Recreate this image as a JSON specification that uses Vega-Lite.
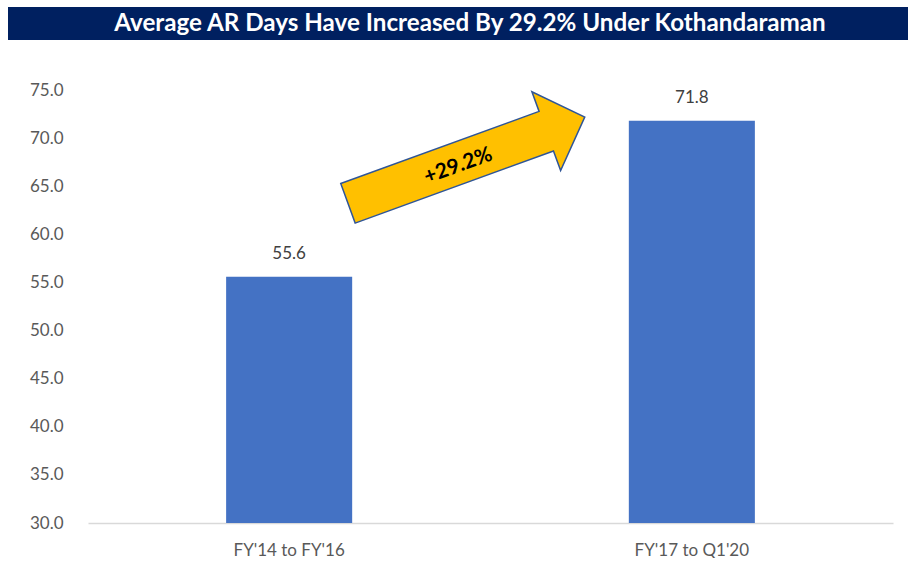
{
  "$schema": "https://vega.github.io/schema/vega-lite/v6.json",
  "background": "white",
  "padding": {"left": 8, "top": 7, "right": 0, "bottom": 0},
  "spacing": 41,
  "config": {
    "view": {"stroke": null},
    "font": "Lato"
  },
  "vconcat": [
    {
      "width": 900,
      "height": 33,
      "view": {"fill": "#002060", "stroke": null},
      "data": {"values": [{"title": "Average AR Days Have Increased By 29.2% Under Kothandaraman"}]},
      "mark": {"type": "text", "color": "white", "fontSize": 24.2, "fontWeight": "bold", "font": "Lato", "align": "center", "baseline": "middle", "dx": 12},
      "encoding": {"text": {"field": "title", "type": "nominal"}}
    },
    {
      "spacing": 0,
      "hconcat": [
        {
          "width": 19,
          "height": 1,
          "data": {"values": [{"blank": 0}]},
          "mark": {"type": "point", "opacity": 0, "size": 0},
          "encoding": {}
        },
        {
          "width": 805,
          "height": 433,
          "resolve": {"scale": {"x": "independent"}},
          "layer": [
            {
              "data": {"values": [
                {"period": "FY'14 to FY'16", "days": 55.6},
                {"period": "FY'17 to Q1'20", "days": 71.8}
              ]},
              "layer": [
                {
                  "mark": {"type": "bar", "color": "#4472C4", "clip": true},
                  "encoding": {
                    "x": {"field": "period", "type": "nominal", "sort": null,
                      "scale": {"paddingInner": 0.687, "paddingOuter": 0.343},
                      "axis": {"title": null, "labelAngle": 0, "labelFontSize": 17, "labelColor": "#595959", "labelFont": "Lato", "ticks": false, "domainColor": "#d9d9d9", "domainWidth": 1.5, "labelPadding": 19}},
                    "y": {"field": "days", "type": "quantitative",
                      "scale": {"domain": [30, 75], "nice": false, "zero": false},
                      "axis": {"title": null, "values": [30, 35, 40, 45, 50, 55, 60, 65, 70, 75], "format": ".1f", "grid": false, "domain": false, "ticks": false, "labelFontSize": 17, "labelColor": "#595959", "labelFont": "Lato", "labelPadding": 25, "minExtent": 61}}
                  }
                },
                {
                  "mark": {"type": "text", "fontSize": 17, "color": "#404040", "font": "Lato", "baseline": "alphabetic", "dy": -18},
                  "encoding": {
                    "x": {"field": "period", "type": "nominal", "sort": null},
                    "y": {"field": "days", "type": "quantitative"},
                    "text": {"field": "days", "type": "quantitative", "format": ".1f"}
                  }
                }
              ]
            },
            {
              "data": {"values": [{"label": "+29.2%", "ax": 0.94, "ay": 67.7, "tx": 0.92, "ty": 67.1}]},
              "layer": [
                {
                  "mark": {"type": "point", "filled": true, "fill": "#FFC000", "stroke": "#2F5597", "strokeWidth": 1.5, "opacity": 1,
                    "shape": "M -1 -0.167 L 0.675 -0.167 L 0.675 -0.333 L 1 0 L 0.675 0.333 L 0.675 0.167 L -1 0.167 Z",
                    "size": 63504, "angle": -20},
                  "encoding": {
                    "x": {"field": "ax", "type": "quantitative", "scale": {"domain": [0, 2], "nice": false, "zero": false}, "axis": null},
                    "y": {"field": "ay", "type": "quantitative"}
                  }
                },
                {
                  "mark": {"type": "text", "fontSize": 21, "fontWeight": "bold", "font": "Lato", "color": "black", "angle": -20, "align": "center", "baseline": "middle"},
                  "encoding": {
                    "x": {"field": "tx", "type": "quantitative", "scale": {"domain": [0, 2], "nice": false, "zero": false}, "axis": null},
                    "y": {"field": "ty", "type": "quantitative"},
                    "text": {"field": "label", "type": "nominal"}
                  }
                }
              ]
            }
          ]
        }
      ]
    }
  ]
}
